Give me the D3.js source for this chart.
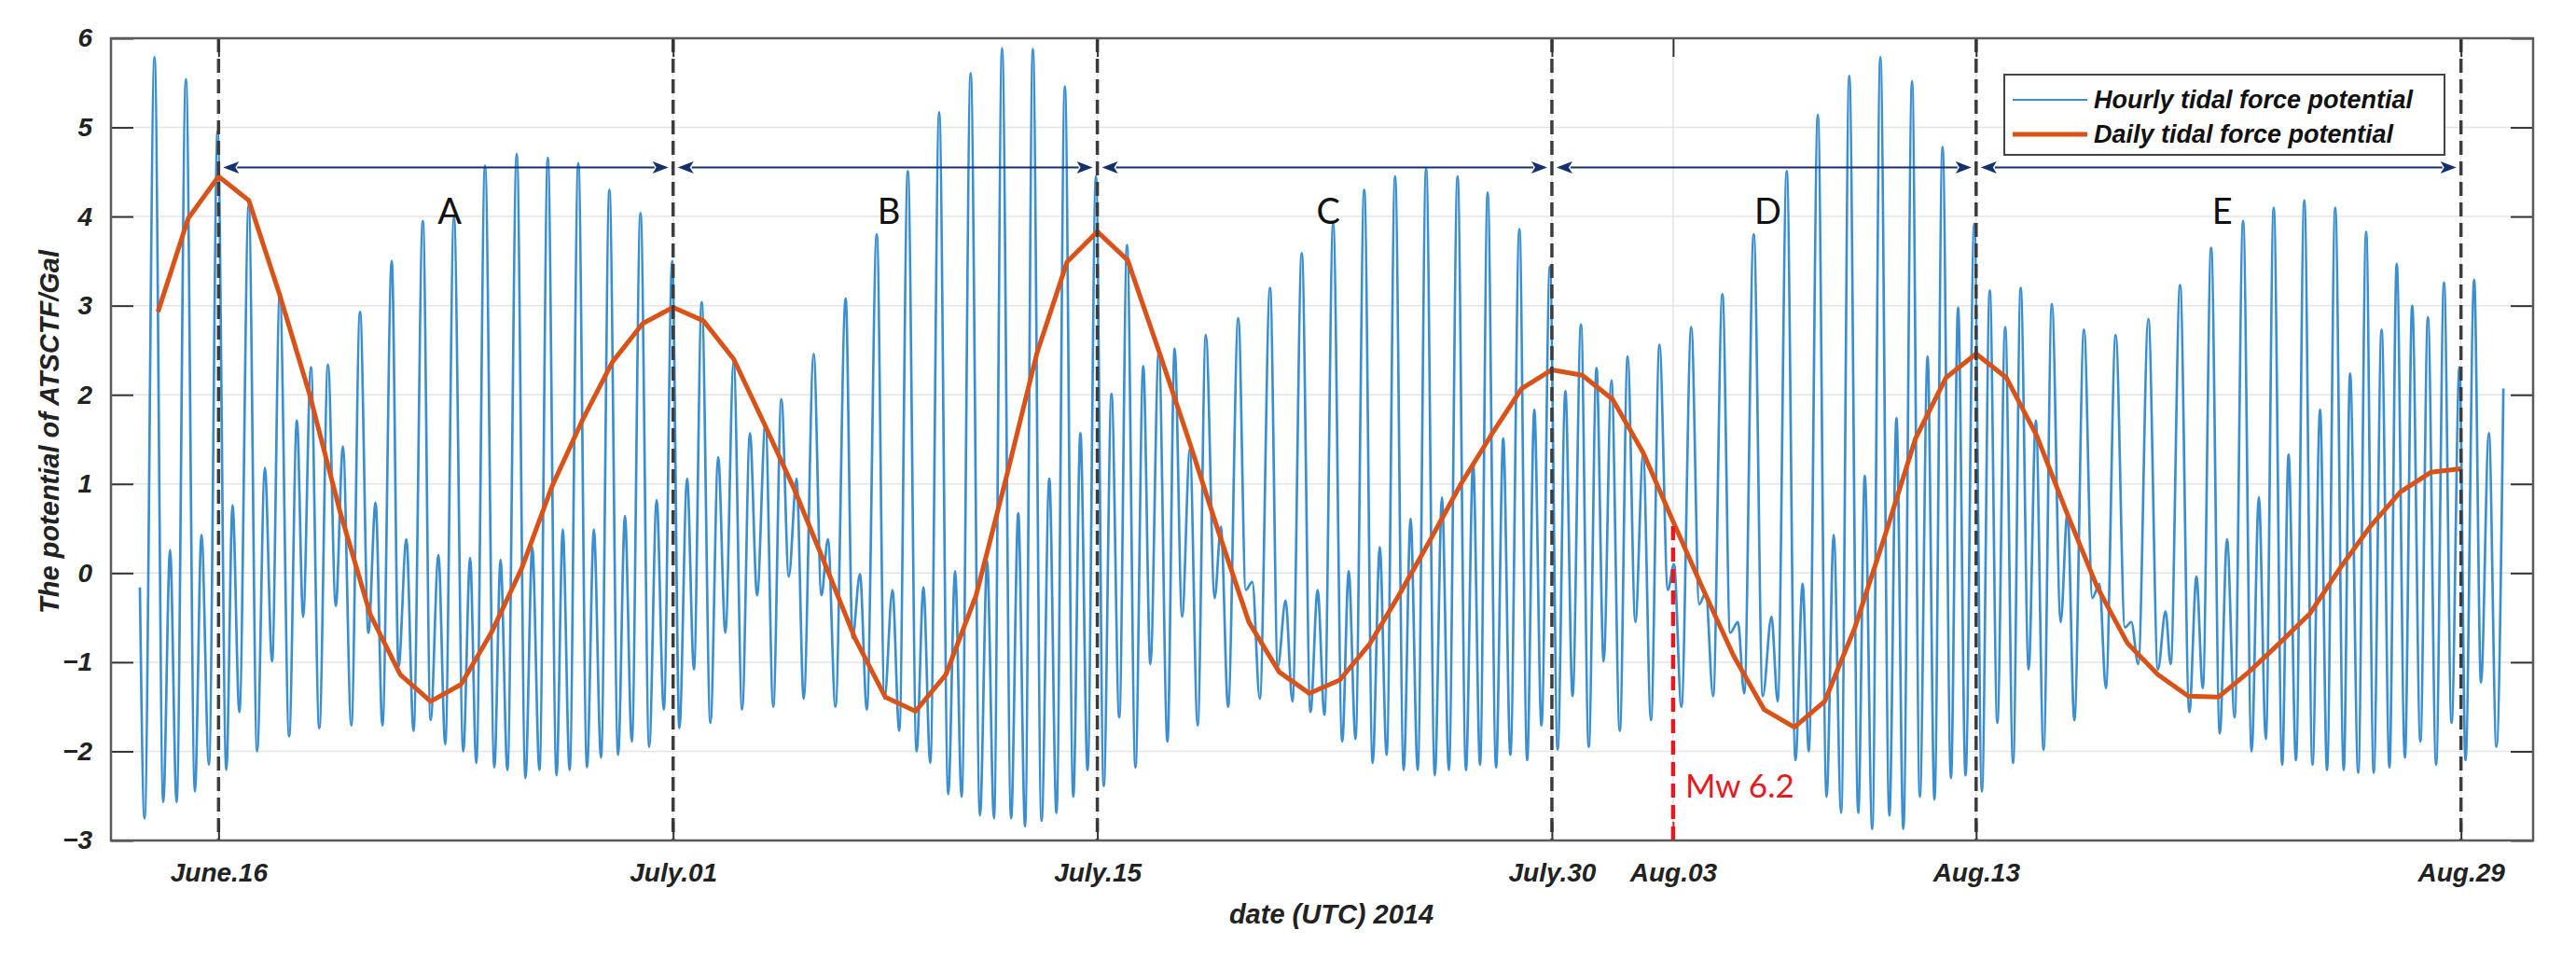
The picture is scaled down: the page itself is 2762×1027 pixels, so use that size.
<!DOCTYPE html>
<html><head><meta charset="utf-8">
<script src="https://cdn.jsdelivr.net/npm/d3@7"></script>
<style>body{margin:0;background:#fff}svg{display:block}</style>
</head><body><svg id="c" width="2762" height="1027"></svg>
<script>
// ---------------- data ----------------
const baseDate = "2014-06-16";          // day 0 of the hourly day offsets
const xDomainDays = [-3.55, 76.38];     // axis range, days after baseDate
const yDomain = [-3, 6];
const yTicks = [-3, -2, -1, 0, 1, 2, 3, 4, 5, 6];
const tickDates = ["2014-06-16","2014-07-01","2014-07-15","2014-07-30","2014-08-03","2014-08-13","2014-08-29"];
const tickLabels = ["June.16","July.01","July.15","July.30","Aug.03","Aug.13","Aug.29"];
const periodBounds = ["2014-06-16","2014-07-01","2014-07-15","2014-07-30","2014-08-13","2014-08-29"];
const periodLabels = ["A","B","C","D","E"];
const eventDate = "2014-08-03";
const eventLabel = "Mw 6.2";
const seriesNames = ["Hourly tidal force potential","Daily tidal force potential"];
const axisLabelX = "date (UTC) 2014";
const axisLabelY = "The potential of ATSCTF/Gal";

// daily values, one per day from dailyStart
const dailyStart = "2014-06-14";
const dailyValues = [2.93,3.98,4.45,4.18,3.14,2.01,0.70,-0.46,-1.14,-1.44,-1.25,-0.67,0.05,0.97,1.71,2.37,2.80,2.98,2.83,2.40,1.68,0.94,0.11,-0.73,-1.39,-1.55,-1.14,-0.25,1.08,2.46,3.49,3.83,3.51,2.52,1.51,0.46,-0.55,-1.11,-1.35,-1.20,-0.79,-0.22,0.38,1.00,1.55,2.07,2.28,2.22,1.95,1.36,0.58,-0.19,-0.93,-1.53,-1.73,-1.44,-0.61,0.43,1.51,2.19,2.46,2.19,1.54,0.67,-0.16,-0.79,-1.14,-1.38,-1.39,-1.11,-0.79,-0.46,0.05,0.52,0.91,1.13,1.17];

// hourly series: turning points [day after baseDate, value]
const hourlyPoints = [
[-2.596,-0.16],[-2.442,-2.75],[-2.113,5.79],[-1.826,-2.57],[-1.600,0.26],[-1.385,-2.57],[-1.077,5.54],[-0.780,-2.45],[-0.564,0.43],[-0.318,-2.15],[-0.031,4.96],[0.256,-2.21],[0.462,0.76],[0.687,-1.56],[0.995,4.13],[1.272,-2.00],[1.529,1.18],[1.765,-0.99],[2.021,3.14],[2.329,-1.83],[2.585,1.71],[2.791,-0.49],[3.047,2.31],[3.324,-1.74],[3.611,2.34],[3.868,-0.37],[4.104,1.42],[4.381,-1.71],[4.668,2.93],[4.945,-0.67],[5.181,0.79],[5.407,-1.71],[5.715,3.50],
[5.940,-1.05],[6.198,0.38],[6.434,-1.77],[6.741,3.95],[6.998,-1.65],[7.255,0.20],[7.481,-1.92],[7.768,3.99],[8.075,-2.00],[8.301,0.17],[8.506,-2.13],[8.794,4.57],[9.101,-2.18],[9.306,0.15],[9.532,-2.21],[9.840,4.70],[10.127,-2.30],[10.353,0.29],[10.589,-2.21],[10.866,4.66],[11.153,-2.27],[11.359,0.49],[11.585,-2.21],[11.871,4.60],[12.159,-2.18],[12.385,0.49],[12.621,-2.07],[12.897,4.30],[13.185,-2.04],[13.411,0.64],[13.637,-1.89],[13.924,4.04],[14.211,-1.95],[14.457,0.82],[14.693,-1.53],[14.970,3.50],
[15.206,-1.74],[15.462,1.06],[15.687,-1.08],[15.944,3.04],[16.232,-1.68],[16.488,1.30],[16.724,-0.67],[16.999,2.37],[17.278,-1.53],[17.535,1.57],[17.771,-0.25],[18.048,1.68],[18.304,-1.50],[18.572,1.95],[18.818,-0.04],[19.074,1.06],[19.310,-1.41],[19.639,2.46],[19.894,-0.25],[20.110,0.38],[20.357,-1.50],[20.694,3.08],[20.921,-0.73],[21.166,-0.01],[21.393,-1.53],[21.721,3.80],[21.977,-1.41],[22.238,-0.19],[22.463,-1.77],[22.746,4.51],[23.035,-2.00],[23.261,-0.16],[23.486,-2.13],[23.780,5.17],
[24.080,-2.48],[24.306,0.02],[24.522,-2.51],[24.819,5.61],[25.127,-2.72],[25.363,0.14],[25.589,-2.75],[25.856,5.89],[26.154,-2.75],[26.390,0.67],[26.615,-2.84],[26.872,5.88],[27.158,-2.78],[27.415,1.06],[27.651,-2.69],[27.928,5.46],[28.205,-2.51],[28.441,1.57],[28.677,-2.21],[28.954,4.45],[29.210,-2.39],[29.467,2.01],[29.723,-1.62],[29.980,3.68],[30.257,-2.18],[30.514,2.32],[30.750,-1.02],[31.027,2.49],[31.314,-1.89],[31.550,2.52],[31.797,-0.49],[32.053,1.39],[32.310,-1.71],[32.580,2.67],
[32.872,-0.28],[33.078,0.52],[33.314,-1.50],[33.652,2.86],[33.898,-0.19],[34.114,-0.10],[34.360,-1.41],[34.699,3.20],[34.955,-1.05],[35.212,-0.31],[35.438,-1.44],[35.746,3.59],[36.033,-1.56],[36.269,-0.19],[36.495,-1.59],[36.782,3.92],[37.080,-1.89],[37.295,0.02],[37.520,-1.86],[37.807,4.30],[38.085,-2.13],[38.320,0.29],[38.547,-2.04],[38.825,4.45],[39.110,-2.21],[39.337,0.61],[39.572,-2.21],[39.850,4.54],[40.137,-2.27],[40.373,0.85],[40.600,-2.21],[40.887,4.45],[41.164,-2.21],[41.400,1.24],[41.630,-2.15],
[41.880,4.27],[42.158,-2.18],[42.394,1.51],[42.630,-2.04],[42.928,3.86],[43.183,-2.10],[43.420,1.83],[43.656,-1.71],[43.934,3.44],[44.190,-1.98],[44.446,2.04],[44.682,-1.38],[44.960,2.79],[45.216,-1.95],[45.472,2.30],[45.708,-0.99],[45.965,2.16],[46.240,-1.77],[46.500,2.43],[46.755,-0.55],[47.010,1.33],[47.270,-1.65],[47.550,2.56],[47.827,-0.19],[48.030,0.10],[48.273,-1.50],[48.600,2.76],[48.860,-0.35],[49.080,-0.22],[49.320,-1.38],[49.627,3.13],[49.883,-0.67],[50.140,-0.55],[50.346,-1.35],[50.660,3.80],
[50.960,-1.38],[51.246,-0.49],[51.451,-1.44],[51.750,4.51],[52.038,-2.10],[52.274,-0.12],[52.479,-2.00],[52.777,5.14],[53.064,-2.51],[53.300,0.43],[53.546,-2.69],[53.813,5.58],[54.110,-2.69],[54.326,1.09],[54.572,-2.87],[54.839,5.79],[55.137,-2.72],[55.372,1.74],[55.598,-2.87],[55.886,5.52],[56.142,-2.51],[56.399,2.43],[56.625,-2.54],[56.892,4.78],[57.169,-2.30],[57.405,2.98],[57.651,-2.27],[57.939,3.92],[58.190,-2.45],[58.450,3.17],[58.700,-1.68],[58.960,2.76],[59.220,-2.13],[59.470,3.20],
[59.733,-1.08],[59.970,1.71],[60.226,-1.98],[60.500,3.02],[60.790,-0.55],[61.016,0.70],[61.240,-1.65],[61.560,2.73],[61.836,-0.28],[62.070,-0.12],[62.280,-1.29],[62.606,2.67],[62.910,-0.61],[63.120,-0.55],[63.350,-1.02],[63.683,2.85],[64.000,-1.08],[64.250,-0.43],[64.420,-1.02],[64.730,3.23],[65.036,-1.56],[65.270,-0.04],[65.480,-1.29],[65.755,3.65],[66.040,-1.80],[66.280,0.38],[66.530,-1.62],[66.810,3.95],[67.090,-2.00],[67.330,0.85],[67.560,-1.86],[67.820,4.10],[68.100,-2.15],[68.310,1.33],
[68.555,-2.10],[68.830,4.18],[69.100,-2.15],[69.350,1.83],[69.580,-2.21],[69.850,4.10],[70.130,-2.21],[70.340,2.24],[70.610,-2.24],[70.870,3.83],[71.120,-2.24],[71.380,2.73],[71.640,-2.18],[71.880,3.47],[72.150,-2.07],[72.390,3.00],[72.660,-1.89],[72.910,2.87],[73.180,-2.15],[73.440,3.26],[73.690,-1.68],[73.950,2.31],[74.150,-2.10],[74.435,3.29],[74.660,-1.23],[74.920,1.57],[75.170,-1.95],[75.400,2.07]
];

// ---------------- drawing ----------------
const W = 2762, H = 1027;
const P = {left: 119, right: 2716, top: 41, bottom: 901};
const BLUE = "#3b8fd0", ORANGE = "#d95319", NAVY = "#15306e", RED = "#e8191e";
const FONT = "'Liberation Sans', Arial, Helvetica, sans-serif";
const LFONT = "Lato, 'Open Sans', sans-serif";

const parse = d3.utcParse("%Y-%m-%d");
const base = parse(baseDate);
const dayToDate = d => new Date(base.getTime() + d * 864e5);

const x = d3.scaleUtc().domain(xDomainDays.map(dayToDate)).range([P.left, P.right]);
const y = d3.scaleLinear().domain(yDomain).range([P.bottom, P.top]);

const svg = d3.select("#c");
svg.append("rect").attr("width", W).attr("height", H).attr("fill", "#fff");

svg.append("defs").append("clipPath").attr("id", "clip")
  .append("rect").attr("x", P.left).attr("y", P.top)
  .attr("width", P.right - P.left).attr("height", P.bottom - P.top);

// grid
const grid = svg.append("g").attr("stroke", "#e4e4e4").attr("stroke-width", 1.5);
grid.selectAll("line.h").data(yTicks.filter(v => v > yDomain[0] && v < yDomain[1])).join("line")
  .attr("x1", P.left).attr("x2", P.right).attr("y1", d => y(d)).attr("y2", d => y(d));
grid.selectAll("line.v").data(tickDates.map(parse)).join("line")
  .attr("y1", P.top).attr("y2", P.bottom).attr("x1", d => x(d)).attr("x2", d => x(d));

const plot = svg.append("g").attr("clip-path", "url(#clip)");

// hourly series
plot.append("path")
  .datum(hourlyPoints)
  .attr("fill", "none").attr("stroke", BLUE).attr("stroke-width", 2.7)
  .attr("stroke-linejoin", "round")
  .attr("d", d3.line().x(d => x(dayToDate(d[0]))).y(d => y(d[1])).curve(d3.curveMonotoneX));

// daily series
const dStart = parse(dailyStart);
const daily = dailyValues.map((v, i) => ({date: d3.utcDay.offset(dStart, i), v}));
plot.append("path")
  .datum(daily)
  .attr("fill", "none").attr("stroke", ORANGE).attr("stroke-width", 5)
  .attr("stroke-linejoin", "round")
  .attr("d", d3.line().x(d => x(d.date)).y(d => y(d.v)));

// period boundaries (black dashed)
svg.append("g").selectAll("line").data(periodBounds.map(parse)).join("line")
  .attr("x1", d => x(d)).attr("x2", d => x(d))
  .attr("y1", P.top).attr("y2", P.bottom)
  .attr("stroke", "#3c3c3c").attr("stroke-width", 3.5).attr("stroke-dasharray", "15,7");

// earthquake line (red dashed) up to the daily curve
const ev = parse(eventDate);
const evVal = daily.find(d => +d.date === +ev).v;
svg.append("line")
  .attr("x1", x(ev)).attr("x2", x(ev))
  .attr("y1", P.bottom).attr("y2", y(evVal))
  .attr("stroke", RED).attr("stroke-width", 4.5).attr("stroke-dasharray", "15,8");
svg.append("text").attr("x", x(ev) + 13).attr("y", 855)
  .attr("font-family", LFONT).attr("font-size", 35).attr("fill", RED)
  .text(eventLabel);

// period arrows
const arrowY = y(4.55), gap = 5, headL = 17, headW = 6.5;
const arrows = svg.append("g");
periodLabels.forEach((lab, i) => {
  const a = x(parse(periodBounds[i])) + gap, b = x(parse(periodBounds[i + 1])) - gap;
  arrows.append("line").attr("x1", a + headL - 2).attr("x2", b - headL + 2)
    .attr("y1", arrowY).attr("y2", arrowY).attr("stroke", NAVY).attr("stroke-width", 2);
  arrows.append("path").attr("fill", NAVY)
    .attr("d", `M${a},${arrowY}L${a + headL},${arrowY - headW}L${a + headL - 4},${arrowY}L${a + headL},${arrowY + headW}Z`);
  arrows.append("path").attr("fill", NAVY)
    .attr("d", `M${b},${arrowY}L${b - headL},${arrowY - headW}L${b - headL + 4},${arrowY}L${b - headL},${arrowY + headW}Z`);
  const mid = new Date((parse(periodBounds[i]).getTime() + parse(periodBounds[i + 1]).getTime()) / 2);
  arrows.append("text").attr("x", x(mid) + 4).attr("y", arrowY + 60)
    .attr("text-anchor", "middle").attr("font-family", LFONT).attr("font-size", 38).attr("fill", "#111")
    .text(lab);
});

// axes (MATLAB box style, inward ticks)
const tickCol = "#333";
const axB = svg.append("g").attr("transform", `translate(0,${P.bottom})`)
  .call(d3.axisBottom(x).tickValues(tickDates.map(parse)).tickFormat((d, i) => tickLabels[i])
    .tickSize(-20).tickSizeOuter(0).tickPadding(24));
const axT = svg.append("g").attr("transform", `translate(0,${P.top})`)
  .call(d3.axisTop(x).tickValues(tickDates.map(parse)).tickFormat("").tickSize(-20).tickSizeOuter(0));
const axL = svg.append("g").attr("transform", `translate(${P.left},0)`)
  .call(d3.axisLeft(y).tickValues(yTicks).tickFormat(d3.format("d")).tickSize(-24).tickSizeOuter(0).tickPadding(20));
const axR = svg.append("g").attr("transform", `translate(${P.right},0)`)
  .call(d3.axisRight(y).tickValues(yTicks).tickFormat("").tickSize(-24).tickSizeOuter(0));
[axB, axT, axL, axR].forEach(g => {
  g.select(".domain").remove();
  g.selectAll(".tick line").attr("stroke", tickCol).attr("stroke-width", 2);
  g.selectAll("text").attr("font-family", FONT).attr("font-size", 28)
    .attr("font-weight", "bold").attr("font-style", "italic").attr("fill", "#222");
});
axB.selectAll(".tick").filter(d => +d === +ev).select("line").attr("stroke", RED);

// frame
svg.append("rect").attr("x", P.left).attr("y", P.top)
  .attr("width", P.right - P.left).attr("height", P.bottom - P.top)
  .attr("fill", "none").attr("stroke", "#5a5a5a").attr("stroke-width", 2.5);

// axis titles
svg.append("text").attr("x", (P.left + P.right) / 2 + 10).attr("y", 990)
  .attr("text-anchor", "middle").attr("font-family", FONT).attr("font-size", 29)
  .attr("font-weight", "bold").attr("font-style", "italic").attr("fill", "#222")
  .text(axisLabelX);
svg.append("text").attr("transform", `translate(63,${(P.top + P.bottom) / 2 - 8}) rotate(-90)`)
  .attr("text-anchor", "middle").attr("font-family", FONT).attr("font-size", 29)
  .attr("font-weight", "bold").attr("font-style", "italic").attr("fill", "#222")
  .text(axisLabelY);

// legend
const L = {x: 2149, y: 80, w: 472, h: 86};
const lg = svg.append("g");
lg.append("rect").attr("x", L.x).attr("y", L.y).attr("width", L.w).attr("height", L.h)
  .attr("fill", "#fff").attr("stroke", "#444").attr("stroke-width", 2);
const rows = [{c: BLUE, w: 2.2}, {c: ORANGE, w: 5}];
seriesNames.forEach((name, i) => {
  const cy = L.y + 27 + i * 37;
  lg.append("line").attr("x1", L.x + 9).attr("x2", L.x + 89).attr("y1", cy).attr("y2", cy)
    .attr("stroke", rows[i].c).attr("stroke-width", rows[i].w);
  lg.append("text").attr("x", L.x + 96).attr("y", cy + 9)
    .attr("font-family", FONT).attr("font-size", 27).attr("font-weight", "bold").attr("font-style", "italic")
    .attr("fill", "#111").text(name);
});
</script></body></html>
